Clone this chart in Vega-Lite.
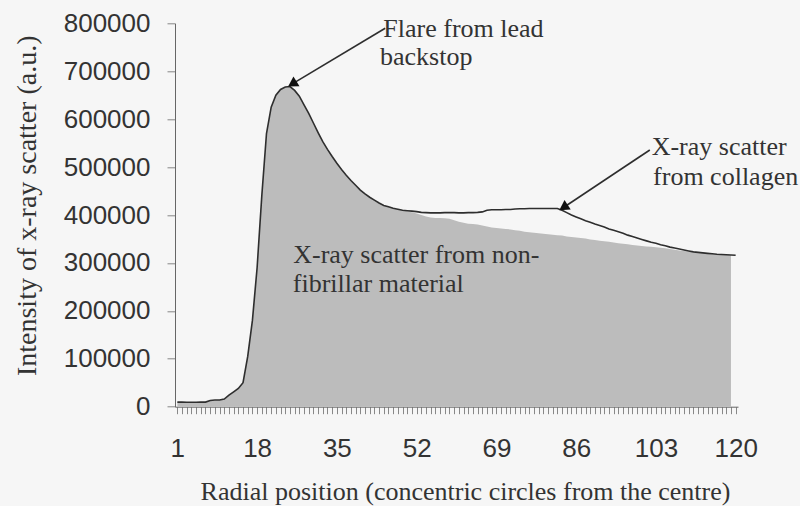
{
  "$schema": "https://vega.github.io/schema/vega-lite/v6.json",
  "autosize": "none",
  "width": 563,
  "height": 383.4,
  "padding": {"left": 175, "top": 23.3, "right": 62, "bottom": 99.3},
  "background": "#f6f6f6",
  "config": {"view": {"stroke": null}},
  "datasets": {
    "profile": [
      {"n":1,"total":9500,"nonfib":9500},{"n":2,"total":9500,"nonfib":9500},{"n":3,"total":9300,"nonfib":9300},{"n":4,"total":9200,"nonfib":9200},{"n":5,"total":9300,"nonfib":9300},
      {"n":6,"total":9500,"nonfib":9500},{"n":7,"total":9600,"nonfib":9600},{"n":8,"total":13000,"nonfib":13000},{"n":9,"total":14000,"nonfib":14000},{"n":10,"total":14000,"nonfib":14000},
      {"n":11,"total":16000,"nonfib":16000},{"n":12,"total":24000,"nonfib":24000},{"n":13,"total":31000,"nonfib":31000},{"n":14,"total":38000,"nonfib":38000},{"n":15,"total":50000,"nonfib":50000},
      {"n":16,"total":105000,"nonfib":105000},{"n":17,"total":180000,"nonfib":180000},{"n":18,"total":290000,"nonfib":290000},{"n":19,"total":440000,"nonfib":440000},{"n":20,"total":570000,"nonfib":570000},
      {"n":21,"total":625000,"nonfib":625000},{"n":22,"total":650000,"nonfib":650000},{"n":23,"total":662000,"nonfib":662000},{"n":24,"total":667000,"nonfib":667000},{"n":25,"total":668000,"nonfib":668000},
      {"n":26,"total":660000,"nonfib":660000},{"n":27,"total":648000,"nonfib":648000},{"n":28,"total":630000,"nonfib":630000},{"n":29,"total":612000,"nonfib":612000},{"n":30,"total":592000,"nonfib":592000},
      {"n":31,"total":572000,"nonfib":572000},{"n":32,"total":553000,"nonfib":553000},{"n":33,"total":537000,"nonfib":537000},{"n":34,"total":522000,"nonfib":522000},{"n":35,"total":508000,"nonfib":508000},
      {"n":36,"total":495000,"nonfib":495000},{"n":37,"total":483000,"nonfib":483000},{"n":38,"total":472000,"nonfib":472000},{"n":39,"total":462000,"nonfib":462000},{"n":40,"total":452000,"nonfib":452000},
      {"n":41,"total":444000,"nonfib":444000},{"n":42,"total":437000,"nonfib":437000},{"n":43,"total":431000,"nonfib":431000},{"n":44,"total":425000,"nonfib":425000},{"n":45,"total":420000,"nonfib":420000},
      {"n":46,"total":417000,"nonfib":417000},{"n":47,"total":414000,"nonfib":414000},{"n":48,"total":412000,"nonfib":412000},{"n":49,"total":410000,"nonfib":410000},{"n":50,"total":409000,"nonfib":408000},
      {"n":51,"total":408000,"nonfib":406000},{"n":52,"total":407000,"nonfib":403000},{"n":53,"total":405500,"nonfib":400000},{"n":54,"total":405000,"nonfib":397000},{"n":55,"total":404500,"nonfib":395000},
      {"n":56,"total":404500,"nonfib":394000},{"n":57,"total":404500,"nonfib":394000},{"n":58,"total":405000,"nonfib":393000},{"n":59,"total":405000,"nonfib":392000},{"n":60,"total":405000,"nonfib":389000},
      {"n":61,"total":404500,"nonfib":386000},{"n":62,"total":404500,"nonfib":384000},{"n":63,"total":405000,"nonfib":382000},{"n":64,"total":405000,"nonfib":381000},{"n":65,"total":405500,"nonfib":380000},
      {"n":66,"total":406500,"nonfib":378000},{"n":67,"total":410000,"nonfib":376000},{"n":68,"total":411000,"nonfib":374000},{"n":69,"total":411000,"nonfib":373000},{"n":70,"total":411000,"nonfib":372000},
      {"n":71,"total":411500,"nonfib":371000},{"n":72,"total":411500,"nonfib":370000},{"n":73,"total":412500,"nonfib":368000},{"n":74,"total":413000,"nonfib":367000},{"n":75,"total":413000,"nonfib":365000},
      {"n":76,"total":413500,"nonfib":364000},{"n":77,"total":413500,"nonfib":363000},{"n":78,"total":413500,"nonfib":362000},{"n":79,"total":413500,"nonfib":361000},{"n":80,"total":413500,"nonfib":360000},
      {"n":81,"total":413500,"nonfib":359000},{"n":82,"total":413500,"nonfib":358000},{"n":83,"total":410000,"nonfib":357000},{"n":84,"total":405000,"nonfib":355000},{"n":85,"total":400000,"nonfib":354000},
      {"n":86,"total":396000,"nonfib":353000},{"n":87,"total":392000,"nonfib":352000},{"n":88,"total":388000,"nonfib":351000},{"n":89,"total":385000,"nonfib":349000},{"n":90,"total":381000,"nonfib":348000},
      {"n":91,"total":378000,"nonfib":346500},{"n":92,"total":375000,"nonfib":345000},{"n":93,"total":371000,"nonfib":344000},{"n":94,"total":368000,"nonfib":342500},{"n":95,"total":365000,"nonfib":341000},
      {"n":96,"total":362000,"nonfib":340000},{"n":97,"total":358000,"nonfib":339000},{"n":98,"total":355000,"nonfib":337500},{"n":99,"total":352000,"nonfib":336500},{"n":100,"total":349000,"nonfib":335500},
      {"n":101,"total":346000,"nonfib":334500},{"n":102,"total":343000,"nonfib":333500},{"n":103,"total":341000,"nonfib":332500},{"n":104,"total":338000,"nonfib":331500},{"n":105,"total":336000,"nonfib":330500},
      {"n":106,"total":333000,"nonfib":329000},{"n":107,"total":331000,"nonfib":327500},{"n":108,"total":329000,"nonfib":326000},{"n":109,"total":327000,"nonfib":325000},{"n":110,"total":325000,"nonfib":324000},
      {"n":111,"total":323000,"nonfib":322500},{"n":112,"total":322000,"nonfib":321500},{"n":113,"total":321000,"nonfib":320500},{"n":114,"total":320000,"nonfib":319500},{"n":115,"total":319000,"nonfib":318500},
      {"n":116,"total":318000,"nonfib":317500},{"n":117,"total":317500,"nonfib":317000},{"n":118,"total":317000,"nonfib":316500},{"n":119,"total":316500,"nonfib":316000},{"n":120,"total":316000,"nonfib":null}
    ],
    "arrows": [
      {"name":"flare","x":45.3,"y":789700,"xend":25.5,"yend":673500},
      {"name":"collagen","x":101.7,"y":535700,"xend":83.3,"yend":415700}
    ],
    "notes": [
      {"text":"Flare from lead","x":44.9,"y":772200},
      {"text":"backstop","x":44.2,"y":713100},
      {"text":"X-ray scatter","x":102.1,"y":525300},
      {"text":"from collagen","x":102.4,"y":462700},
      {"text":"X-ray scatter from non-","x":25.7,"y":299300},
      {"text":"fibrillar material","x":25.6,"y":240000}
    ]
  },
  "layer": [
    {
      "data": {"name": "profile"},
      "transform": [{"filter": "datum.nonfib != null"}],
      "mark": {"type": "area", "color": "#bcbcbc", "opacity": 1},
      "encoding": {
        "x": {"field": "n", "type": "quantitative",
          "scale": {"domain": [0.5, 120.5], "nice": false, "zero": false},
          "axis": {
            "title": "Radial position (concentric circles from the centre)",
            "tickCount": 120, "grid": false, "labelOverlap": false, "labelFlush": false, "labelBound": false,
            "labelExpr": "(datum.value - 1) % 17 === 0 ? datum.label : ''",
            "labelFont": "Liberation Sans", "labelFontSize": 26, "labelColor": "#333333",
            "labelPadding": 21.5, "tickSize": 7, "tickColor": "#888888", "domainColor": "#666666",
            "titleFont": "Liberation Serif", "titleFontSize": 26, "titleFontWeight": "normal", "titleColor": "#333333",
            "titleX": 290, "titleY": 93, "titleBaseline": "alphabetic", "titleAnchor": "middle", "titleAlign": "center"
          }
        },
        "y": {"field": "nonfib", "type": "quantitative",
          "scale": {"domain": [0, 800000], "nice": false},
          "axis": {
            "title": "Intensity of x-ray scatter (a.u.)",
            "values": [0,100000,200000,300000,400000,500000,600000,700000,800000],
            "format": "d", "grid": false,
            "labelFont": "Liberation Sans", "labelFontSize": 26, "labelColor": "#333333",
            "labelPadding": 17, "tickSize": 8, "tickColor": "#888888", "domainColor": "#666666",
            "titleFont": "Liberation Serif", "titleFontSize": 28, "titleFontWeight": "normal", "titleColor": "#333333",
            "titleX": -148, "titleY": 182, "titleBaseline": "middle", "titleAlign": "center"
          }
        }
      }
    },
    {
      "data": {"name": "profile"},
      "mark": {"type": "line", "color": "#2e2e2e", "strokeWidth": 1.6},
      "encoding": {
        "x": {"field": "n", "type": "quantitative"},
        "y": {"field": "total", "type": "quantitative"}
      }
    },
    {
      "data": {"name": "arrows"},
      "mark": {"type": "rule", "color": "#2e2e2e", "strokeWidth": 1.6},
      "encoding": {
        "x": {"field": "x", "type": "quantitative"},
        "y": {"field": "y", "type": "quantitative"},
        "x2": {"field": "xend"},
        "y2": {"field": "yend"}
      }
    },
    {
      "data": {"name": "arrows"},
      "transform": [{"filter": "datum.name === 'flare'"}],
      "mark": {"type": "point", "shape": "triangle-up", "filled": true, "color": "#111111", "size": 130, "angle": 238, "opacity": 1},
      "encoding": {
        "x": {"field": "xend", "type": "quantitative"},
        "y": {"field": "yend", "type": "quantitative"}
      }
    },
    {
      "data": {"name": "arrows"},
      "transform": [{"filter": "datum.name === 'collagen'"}],
      "mark": {"type": "point", "shape": "triangle-up", "filled": true, "color": "#111111", "size": 130, "angle": 237, "opacity": 1},
      "encoding": {
        "x": {"field": "xend", "type": "quantitative"},
        "y": {"field": "yend", "type": "quantitative"}
      }
    },
    {
      "data": {"name": "notes"},
      "mark": {"type": "text", "align": "left", "baseline": "alphabetic", "font": "Liberation Serif", "fontSize": 26, "color": "#333333"},
      "encoding": {
        "x": {"field": "x", "type": "quantitative"},
        "y": {"field": "y", "type": "quantitative"},
        "text": {"field": "text"}
      }
    }
  ]
}
